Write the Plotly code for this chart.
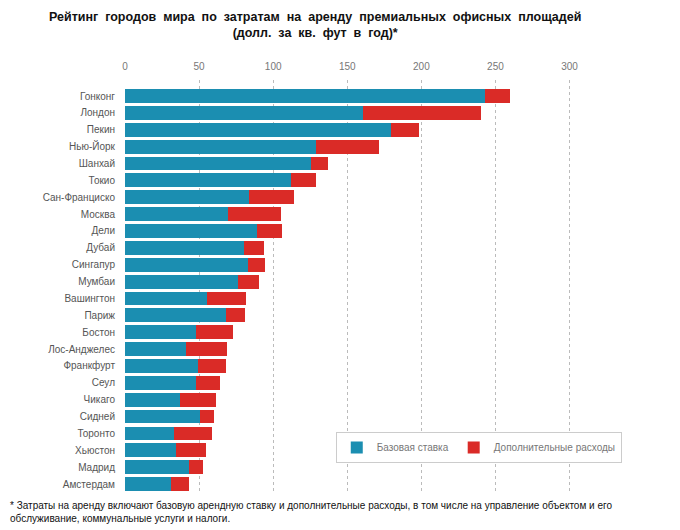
import plotly.graph_objects as go

cities = [
    "Гонконг", "Лондон", "Пекин", "Нью-Йорк", "Шанхай", "Токио", "Сан-Франциско",
    "Москва", "Дели", "Дубай", "Сингапур", "Мумбаи", "Вашингтон", "Париж", "Бостон",
    "Лос-Анджелес", "Франкфурт", "Сеул", "Чикаго", "Сидней", "Торонто", "Хьюстон",
    "Мадрид", "Амстердам",
]
base_rate = [
    242.7, 160.6, 179.7, 128.8, 125.8, 111.9, 83.4,
    69.4, 88.8, 80.4, 82.9, 76.0, 55.3, 68.3, 48.1,
    40.9, 49.4, 48.1, 37.3, 50.6, 33.0, 34.4,
    43.4, 30.8,
]
total_cost = [
    260.0, 240.0, 198.4, 171.5, 137.0, 128.8, 114.2,
    105.6, 106.0, 93.7, 94.2, 90.5, 81.6, 81.1, 73.2,
    68.5, 68.1, 64.2, 61.1, 60.0, 58.9, 54.8,
    52.6, 43.1,
]
extra_cost = [round(t - b, 1) for t, b in zip(total_cost, base_rate)]
x_ticks = [0, 50, 100, 150, 200, 250, 300]

BLUE = "#1b8eb1"
RED = "#da2b27"
FONT = "Liberation Sans, Arial, sans-serif"

# the page has an 8px body margin, so the figure is drawn 8px smaller and
# everything is placed 8px up/left of where it sits in the reference
OFF = 8
PLOT_L, PLOT_R, PLOT_T, PLOT_B = 125 - OFF, 574.5 - OFF, 80 - OFF, 493 - OFF
FIG_W, FIG_H = 680 - OFF, 530 - OFF
PLOT_W = PLOT_R - PLOT_L
PLOT_H = PLOT_B - PLOT_T

fig = go.Figure()
fig.add_trace(go.Bar(
    y=cities, x=base_rate, orientation="h", name="Базовая ставка",
    marker=dict(color=BLUE, line=dict(width=0)),
))
fig.add_trace(go.Bar(
    y=cities, x=extra_cost, orientation="h", name="Дополнительные расходы",
    marker=dict(color=RED, line=dict(width=0)),
))

fig.update_layout(
    width=FIG_W,
    height=FIG_H,
    barmode="stack",
    bargap=0.18,
    plot_bgcolor="white",
    paper_bgcolor="white",
    margin=dict(l=PLOT_L, r=FIG_W - PLOT_R, t=PLOT_T, b=FIG_H - PLOT_B),
    font=dict(family=FONT, color="#555555"),
    xaxis=dict(
        side="top",
        range=[0, 303],
        tickvals=x_ticks,
        tickfont=dict(size=10, color="#777777"),
        showgrid=True,
        gridcolor="#bbbbbb",
        gridwidth=1,
        griddash="3px,3px",
        zeroline=False,
        showline=False,
        ticks="",
        ticklabelstandoff=7,
        automargin=False,
    ),
    yaxis=dict(
        range=[23.53, -0.95],
        tickfont=dict(size=10, color="#555555"),
        showgrid=False,
        zeroline=False,
        showline=False,
        ticks="",
        ticklabelstandoff=9,
        automargin=False,
    ),
    legend=dict(
        orientation="h",
        x=(336 - OFF - PLOT_L) / PLOT_W,
        y=(PLOT_B - (432 - OFF)) / PLOT_H,
        xanchor="left",
        yanchor="top",
        bordercolor="#cccccc",
        borderwidth=1,
        bgcolor="white",
        font=dict(size=10, color="#777777"),
        traceorder="normal",
        itemwidth=30,
    ),
    showlegend=True,
)

fig.add_annotation(
    text="<b>Рейтинг  городов  мира  по  затратам  на  аренду  премиальных  офисных  площадей</b><br>"
         "<b>(долл.  за  кв.  фут  в  год)*</b>",
    xref="paper", yref="paper", x=(315 - OFF - PLOT_L) / PLOT_W, y=1.0,
    yshift=PLOT_T, xanchor="center", yanchor="top", showarrow=False,
    font=dict(family=FONT, size=12.5, color="#111111"), align="center",
)
fig.add_annotation(
    text="* Затраты на аренду включают базовую арендную ставку и дополнительные расходы, "
         "в том числе на управление объектом и его<br>обслуживание, коммунальные услуги и налоги.",
    xref="paper", yref="paper", x=-PLOT_L / PLOT_W, y=0, yshift=-5,
    xanchor="left", yanchor="top", showarrow=False, align="left",
    font=dict(family=FONT, size=10, color="#111111"),
)

fig.write_html("out.html")
